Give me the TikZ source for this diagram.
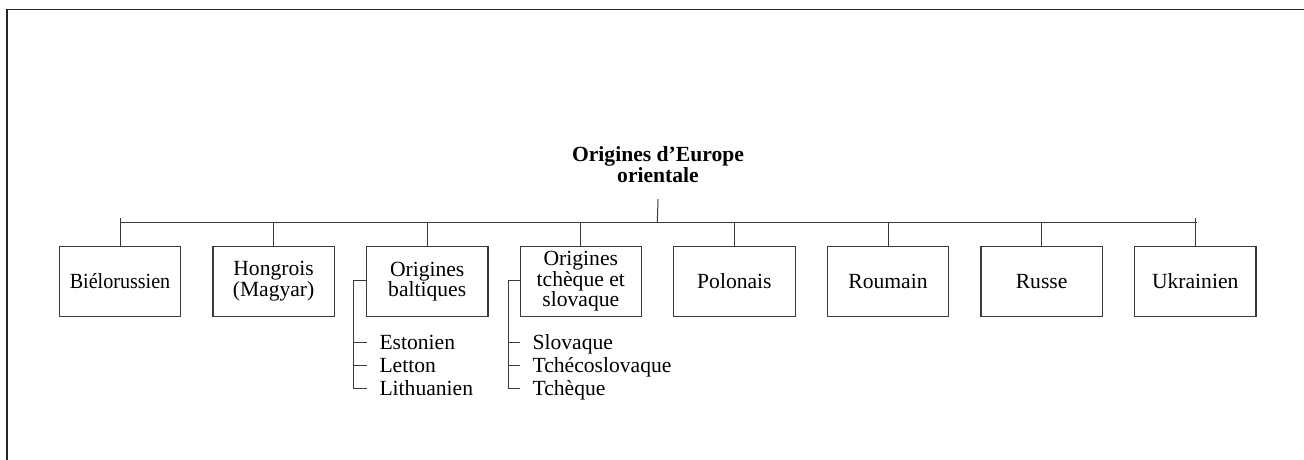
\documentclass[tikz,border=0pt]{standalone}
\usepackage{fontspec}
\setmainfont{Liberation Serif}
\newfontfamily\condf[FakeStretch=0.93]{Liberation Serif}
\definecolor{ln}{HTML}{3A3A3A}
\tikzset{
  box/.style={draw=ln, line width=1.2pt, minimum width=121.4pt, minimum height=70.4pt,
    inner sep=0pt, align=center, font=\fontsize{21.6}{19}\selectfont},
  item/.style={anchor=west, inner sep=0pt, inner xsep=12.6pt, text height=14.5pt, text depth=0pt,
    font=\fontsize{21.6}{23}\selectfont},
  conn/.style={draw=ln, line width=1pt},
  frame/.style={draw=black!85, line width=1.5pt}
}
\begin{document}
\begin{tikzpicture}[x=1pt,y=-1pt]
\useasboundingbox (0,0) rectangle (1304,460);
\draw[frame] (7,460) -- (7,9.5) -- (1304,9.5);
\node[inner sep=0pt, align=center, font=\bfseries\fontsize{21.6}{21}\selectfont] (root) at (658,164.3) {Origines d’Europe\\orientale};
\coordinate (bus) at (657.3,222.7);
\node[box, font=\condf\fontsize{21.6}{19}\selectfont] (bie) at (120,281.5) {Biélorussien};
\node[box] (hon) at (273.6,281.5) {Hongrois\\(Magyar)};
\node[box] (bal) at (427.2,281.5) {Origines\\baltiques};
\node[box] (tch) at (580.8,281.5) {Origines\\tchèque et\\slovaque};
\node[box] (pol) at (734.4,281.5) {Polonais};
\node[box] (rou) at (888,281.5) {Roumain};
\node[box] (rus) at (1041.6,281.5) {Russe};
\node[box] (ukr) at (1195.2,281.5) {Ukrainien};
% root stem and bus
\draw[conn] ([yshift=-16.6pt]root.south) -- (bus);
\draw[conn] (bus -| bie.north) -- ([xshift=2pt]bus -| ukr.north);
\draw[conn] (bie.north) -- ([yshift=4.4pt]bus -| bie.north);
\draw[conn] (ukr.north) -- ([yshift=4.4pt]bus -| ukr.north);
\foreach \b in {hon,bal,tch,pol,rou,rus}{
  \draw[conn] (\b.north) -- (bus -| \b.north);
}
% baltic list
\node[item] (est) at (366.7,342) {Estonien};
\node[item] (let) at (366.7,365) {Letton};
\node[item] (lit) at (366.7,388) {Lithuanien};
\coordinate (bsp) at ([xshift=-12.3pt,yshift=1.5pt]bal.west);
\draw[conn] ([yshift=1.5pt]bal.west) -- (bsp) |- (lit.west);
\draw[conn] (bsp |- est.west) -- (est.west);
\draw[conn] (bsp |- let.west) -- (let.west);
% czech list
\node[item] (slo) at (519.8,342) {Slovaque};
\node[item] (tcs) at (519.8,365) {Tchécoslovaque};
\node[item] (tcq) at (519.8,388) {Tchèque};
\coordinate (tsp) at ([xshift=-11.3pt,yshift=1.5pt]tch.west);
\draw[conn] ([yshift=1.5pt]tch.west) -- (tsp) |- (tcq.west);
\draw[conn] (tsp |- slo.west) -- (slo.west);
\draw[conn] (tsp |- tcs.west) -- (tcs.west);
\end{tikzpicture}
\end{document}
